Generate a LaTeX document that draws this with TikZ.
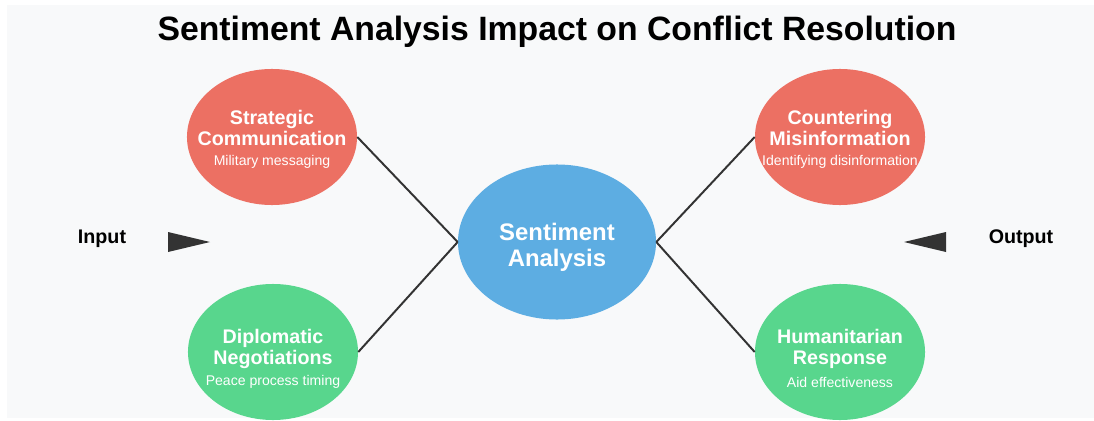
\documentclass[tikz,border=0pt]{standalone}
\usepackage{fontspec}
\setmainfont{Liberation Sans}
\setsansfont{Liberation Sans}
\usetikzlibrary{shapes}
\definecolor{bgGray}{HTML}{F8F9FA}
\definecolor{ballRed}{HTML}{EC7063}
\definecolor{ballGreen}{HTML}{58D68D}
\definecolor{ballBlue}{HTML}{5DADE2}
\definecolor{darkLine}{HTML}{333333}

\begin{document}
\begin{tikzpicture}[x = 0.025cm, y = -0.025cm, font=\sffamily]
	\tikzstyle{ballStyle}=[shape = ellipse, inner sep = 0pt, minimum width = 4.25cm, minimum height = 3.4cm]
	\tikzstyle{redStyle}=[ballStyle, fill = ballRed]
	\tikzstyle{greenStyle}=[ballStyle, fill = ballGreen]
	\tikzstyle{centerStyle}=[shape = ellipse, inner sep = 0pt, minimum width = 4.95cm, minimum height = 3.875cm, fill = ballBlue]
	\tikzstyle{ballText}=[text = white, align = center, font = \fontsize{14}{15}\selectfont\bfseries]
	\tikzstyle{subText}=[text = white, font = \fontsize{10}{12}\selectfont]
	\tikzstyle{sideText}=[text = black, font = \fontsize{14}{16}\selectfont\bfseries]
	\tikzstyle{EdgeStyle}=[draw = darkLine, line width = 1.4pt]
	\tikzstyle{pointerStyle}=[fill = darkLine]
	\useasboundingbox (0,0) rectangle (1094,421);
	\fill[bgGray] (7,5) rectangle (1094,418);
	\node[font = \fontsize{24}{28}\selectfont\bfseries] (title) at (557,32) {Sentiment Analysis Impact on Conflict Resolution};
	\node[centerStyle] (sent) at (557,242) {};
	\node[redStyle] (strat) at (272,137) {};
	\node[redStyle] (counter) at (840,137) {};
	\node[greenStyle] (diplo) at (273,352) {};
	\node[greenStyle] (human) at (840,352) {};
	\node[ballText, font = \fontsize{17}{18.5}\selectfont\bfseries] (sentT) at (557,247) {Sentiment\\Analysis};
	\node[ballText] (stratT) at (272,128) {Strategic\\Communication};
	\node[subText] (stratS) at (272,162) {Military messaging};
	\node[ballText] (counterT) at (840,128) {Countering\\Misinformation};
	\node[subText] (counterS) at (840,162) {Identifying disinformation};
	\node[ballText] (diploT) at (273,349) {Diplomatic\\Negotiations};
	\node[subText] (diploS) at (273,382) {Peace process timing};
	\node[ballText] (humanT) at (840,349) {Humanitarian\\Response};
	\node[subText] (humanS) at (840,382) {Aid effectiveness};
	\node[sideText] (input) at (102,239) {Input};
	\node[sideText] (output) at (1021,239) {Output};
	\fill[pointerStyle] (168,232) -- (210,242) -- (168,252) -- cycle;
	\fill[pointerStyle] (946,232) -- (904,242) -- (946,252) -- cycle;
	\draw[EdgeStyle] (strat.east) -- (sent.west);
	\draw[EdgeStyle] (diplo.east) -- (sent.west);
	\draw[EdgeStyle] (sent.east) -- (counter.west);
	\draw[EdgeStyle] (sent.east) -- (human.west);
\end{tikzpicture}
\end{document}
